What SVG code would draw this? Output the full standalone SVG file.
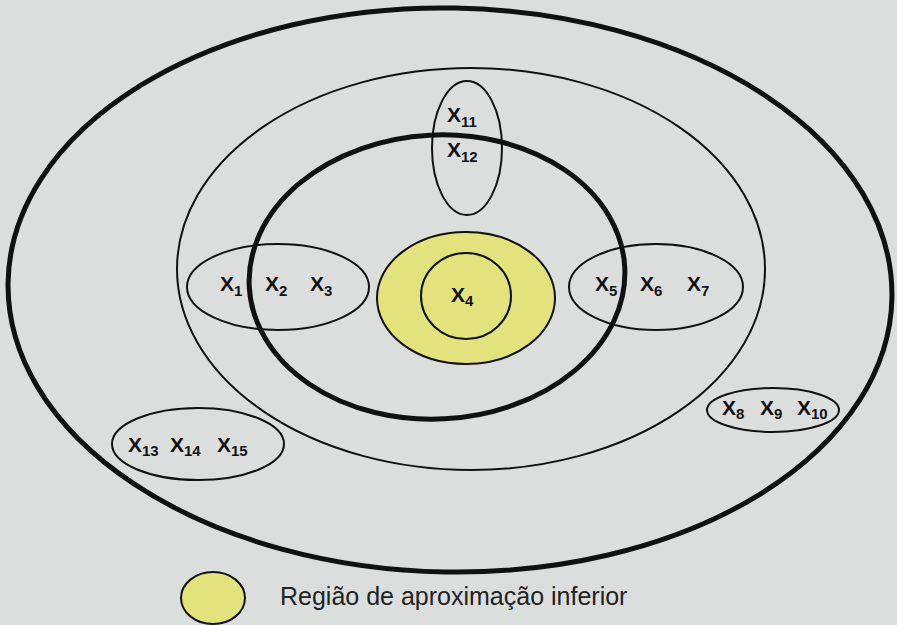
<svg xmlns="http://www.w3.org/2000/svg" width="897" height="625" viewBox="0 0 897 625">
<style>
.thin{fill:none;stroke:#111;stroke-width:2}
.thick{fill:none;stroke:#111;stroke-width:5}
.lbl{font-family:"Liberation Sans",Arial,sans-serif;font-weight:bold;font-size:21px;fill:#111}
.sub{font-size:15px}
.leg{font-family:"Liberation Sans",Arial,sans-serif;font-size:25px;fill:#222}
</style>
<rect width="897" height="625" fill="#dcdedd"/>
<g id="outer"><ellipse class="thick" cx="450" cy="290" rx="442" ry="282" transform="rotate(1 450 290)"/></g>
<g id="middle"><ellipse class="thin" cx="471" cy="269" rx="294" ry="201"/></g>
<g id="inner"><ellipse class="thick" cx="437" cy="277" rx="188" ry="142" transform="rotate(-3 437 277)"/></g>
<g id="lower">
<ellipse cx="466" cy="298" rx="89" ry="66" fill="#e3e37e" stroke="#111" stroke-width="2"/>
<ellipse class="thin" cx="466" cy="296" rx="45" ry="43"/>
<text class="lbl" x="451" y="302">X<tspan class="sub" dy="4">4</tspan></text>
</g>
<g id="set123">
<ellipse class="thin" cx="278" cy="287" rx="91" ry="43"/>
<text class="lbl" x="220" y="291">X<tspan class="sub" dy="5">1</tspan></text>
<text class="lbl" x="265" y="291">X<tspan class="sub" dy="5">2</tspan></text>
<text class="lbl" x="310" y="291">X<tspan class="sub" dy="5">3</tspan></text>
</g>
<g id="set567">
<ellipse class="thin" cx="656" cy="287" rx="87" ry="43"/>
<text class="lbl" x="595" y="291">X<tspan class="sub" dy="5">5</tspan></text>
<text class="lbl" x="640" y="291">X<tspan class="sub" dy="5">6</tspan></text>
<text class="lbl" x="687" y="291">X<tspan class="sub" dy="5">7</tspan></text>
</g>
<g id="set1112">
<ellipse class="thin" cx="467" cy="148" rx="35" ry="67"/>
<text class="lbl" x="447" y="122">X<tspan class="sub" dy="5">11</tspan></text>
<text class="lbl" x="447" y="157">X<tspan class="sub" dy="5">12</tspan></text>
</g>
<g id="set131415">
<ellipse class="thin" cx="198" cy="444" rx="86" ry="36"/>
<text class="lbl" x="128" y="452">X<tspan class="sub" dy="4">13</tspan></text>
<text class="lbl" x="170" y="452">X<tspan class="sub" dy="4">14</tspan></text>
<text class="lbl" x="217" y="452">X<tspan class="sub" dy="4">15</tspan></text>
</g>
<g id="set8910">
<ellipse class="thin" cx="773" cy="410" rx="66" ry="22"/>
<text class="lbl" x="722" y="415">X<tspan class="sub" dy="4">8</tspan></text>
<text class="lbl" x="760" y="415">X<tspan class="sub" dy="4">9</tspan></text>
<text class="lbl" x="797" y="415">X<tspan class="sub" dy="4">10</tspan></text>
</g>
<g id="legend">
<ellipse cx="213" cy="598" rx="32" ry="26" fill="#e3e37e" stroke="#111" stroke-width="2"/>
<text class="leg" x="280" y="605">Região de aproximação inferior</text>
</g>
</svg>
